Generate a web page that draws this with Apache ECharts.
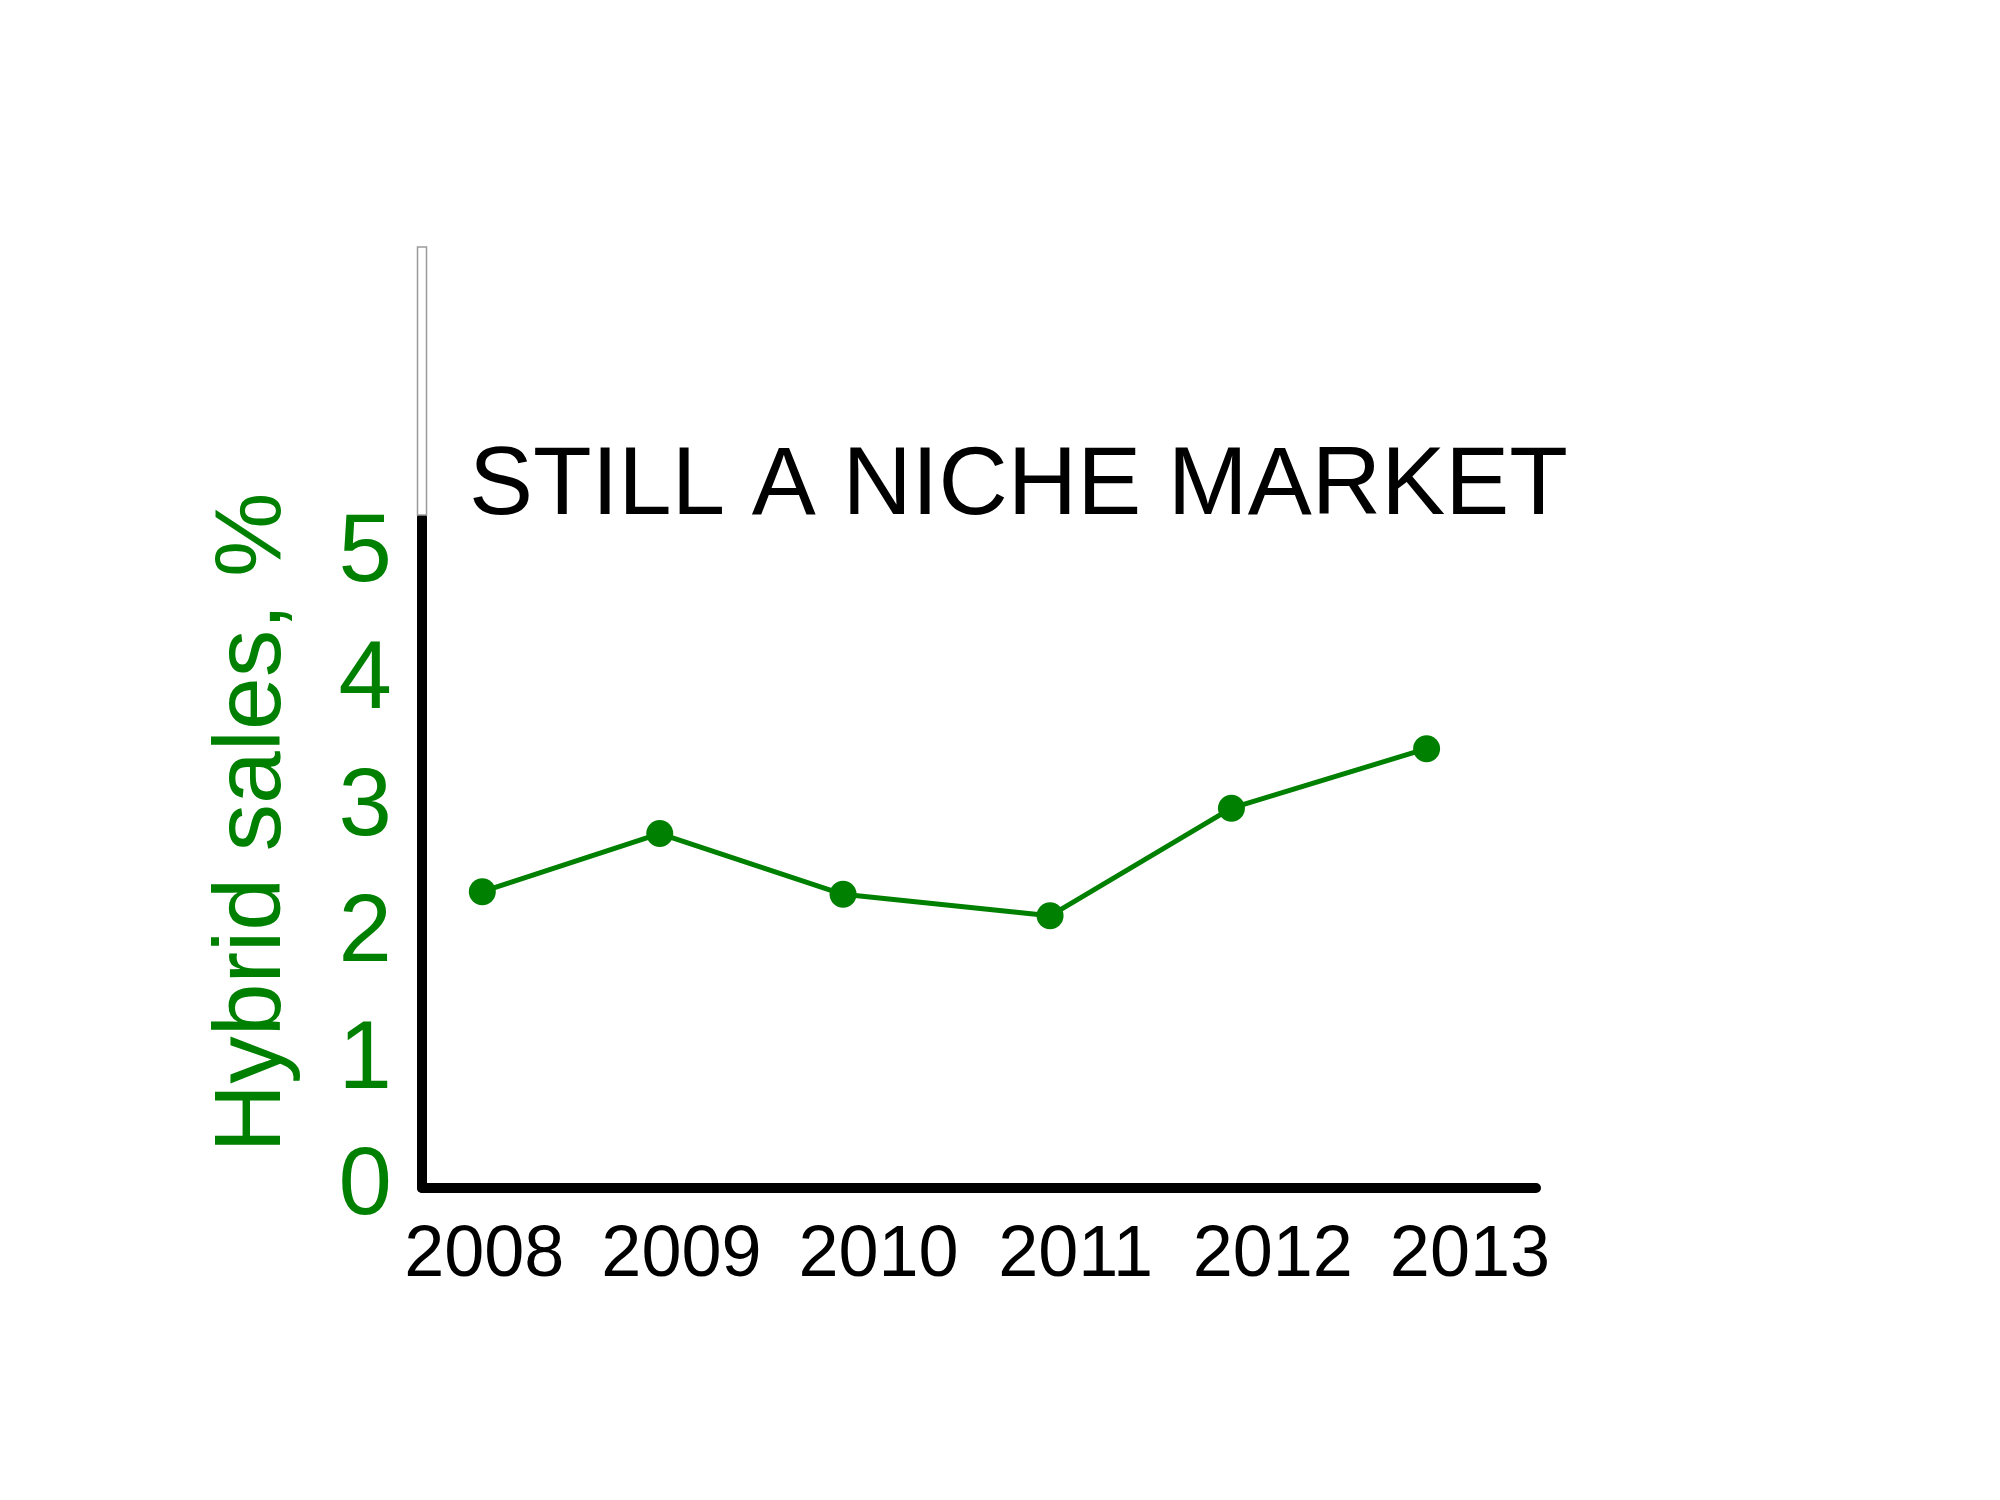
<!DOCTYPE html>
<html>
<head>
<meta charset="utf-8">
<script src="https://cdn.jsdelivr.net/npm/echarts@6/dist/echarts.min.js"></script>
<style>
html,body{margin:0;padding:0;background:#fff;}
#chart{width:2000px;height:1500px;}
</style>
</head>
<body>
<div id="chart"></div>
<script>
// Data
const titleText = 'STILL A NICHE MARKET';
const yAxisName = 'Hybrid sales, %';
const xPositions = [2007.99, 2008.89, 2009.82, 2010.87, 2011.79, 2012.78];
const hybridShare = [2.34, 2.80, 2.32, 2.15, 3.00, 3.47];
const yearTicks = [2008, 2009, 2010, 2011, 2012, 2013];

const FONT = '"Liberation Sans", Arial, sans-serif';
const GREEN = '#008000';

const chart = echarts.init(document.getElementById('chart'), null, {renderer: 'canvas'});
const points = xPositions.map((x, i) => [x, hybridShare[i]]);

chart.setOption({
  backgroundColor: '#ffffff',
  animation: false,
  title: {
    text: titleText,
    left: 469,
    top: 440,
    padding: 0,
    textStyle: {fontFamily: FONT, fontSize: 96, fontWeight: 'normal', color: '#000', lineHeight: 96}
  },
  graphic: [{
    type: 'rect',
    shape: {x: 417.5, y: 247, width: 9, height: 268},
    style: {fill: '#ffffff', stroke: '#9a9a9a', lineWidth: 1.5},
    z: 100
  }],
  grid: {left: 422, right: 464, top: 517, bottom: 312, containLabel: false},
  xAxis: {
    type: 'value',
    min: 2007.684,
    max: 2013.335,
    splitNumber: 6,
    axisLine: {show: true, lineStyle: {color: '#000', width: 10}},
    axisTick: {show: false},
    splitLine: {show: false},
    axisLabel: {
      showMinLabel: false,
      showMaxLabel: false,
      margin: 32,
      fontFamily: FONT,
      fontSize: 72,
      color: '#000',
      formatter: function (v) { return yearTicks.indexOf(Math.round(v * 1000) / 1000) >= 0 ? String(v) : ''; }
    }
  },
  yAxis: {
    type: 'value',
    min: 0,
    max: 5.3,
    interval: 1,
    name: yAxisName,
    nameLocation: 'middle',
    nameRotate: 90,
    nameGap: 121,
    nameTextStyle: {fontFamily: FONT, fontSize: 95, color: GREEN, lineHeight: 95, padding: [0, 0, 0, 60]},
    axisLine: {show: true, lineStyle: {color: '#000', width: 10}},
    axisTick: {show: false},
    splitLine: {show: false},
    axisLabel: {
      showMaxLabel: false,
      margin: 30,
      padding: [22, 0, 0, 0],
      fontFamily: FONT,
      fontSize: 96,
      color: GREEN,
      formatter: function (v) { return Number.isInteger(v) ? String(v) : ''; }
    }
  },
  series: [{
    type: 'line',
    data: points,
    symbol: 'circle',
    symbolSize: 27,
    lineStyle: {color: GREEN, width: 5},
    itemStyle: {color: GREEN},
    z: 3
  }]
});
</script>
</body>
</html>
